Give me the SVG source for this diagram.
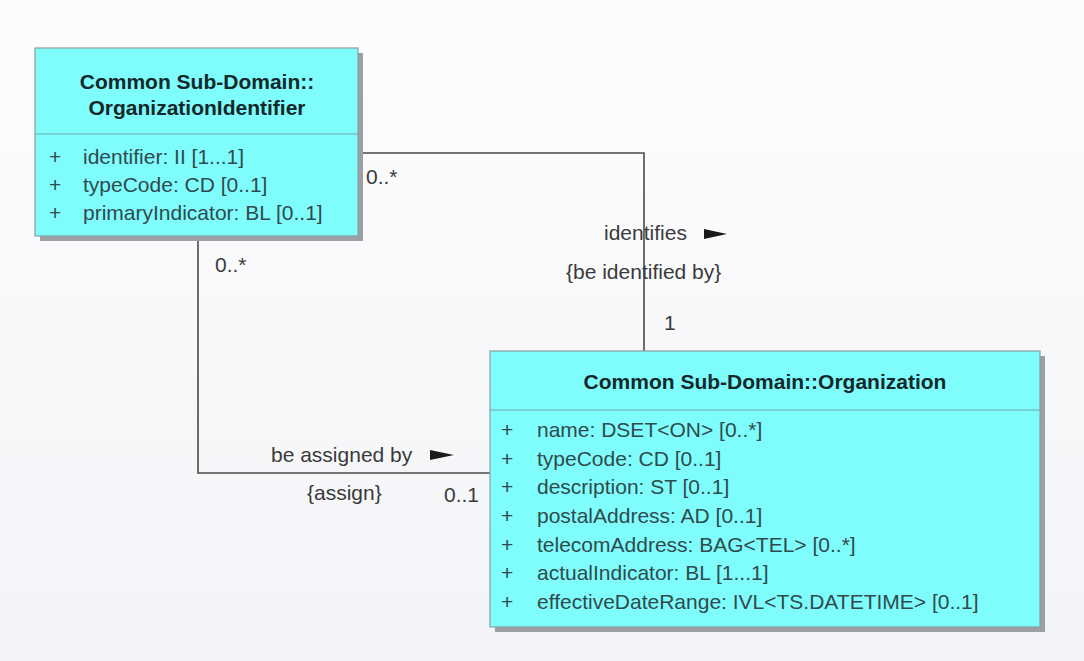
<svg xmlns="http://www.w3.org/2000/svg" width="1084" height="661" viewBox="0 0 1084 661">
  <defs>
    <linearGradient id="bg" x1="0" y1="0" x2="0" y2="1">
      <stop offset="0" stop-color="#fdfdfe"/>
      <stop offset="1" stop-color="#f3f4f7"/>
    </linearGradient>
    <style>
      text { font-family: "Liberation Sans", Arial, sans-serif; }
      .shadow { fill: #9c9fa3; }
      .box { fill: #7ffcfc; stroke: #8a9ea0; stroke-width: 1.2; }
      .sep { stroke: #6aacad; stroke-width: 1.2; }
      .title { font-size: 21px; font-weight: bold; fill: #13282a; text-anchor: middle; }
      .attr { font-size: 21px; fill: #2f4b4d; }
      .lbl { font-size: 21px; fill: #3a3a3a; }
      .conn { fill: none; stroke: #4a4a4a; stroke-width: 1.6; }
      .arr { fill: #1a1a1a; }
    </style>
  </defs>
  <rect x="0" y="0" width="1084" height="661" fill="url(#bg)"/>

  <g id="connectors">
    <polyline class="conn" points="358,153 644,153 644,351"/>
    <polyline class="conn" points="198,236 198,473 490,473"/>
    <text class="lbl" x="366" y="184">0..*</text>
    <text class="lbl" x="604" y="240">identifies</text>
    <polygon class="arr" points="704,229 727,234 704,239"/>
    <text class="lbl" x="566" y="279">{be identified by}</text>
    <text class="lbl" x="664" y="330">1</text>
    <text class="lbl" x="215" y="272">0..*</text>
    <text class="lbl" x="271" y="462">be assigned by</text>
    <polygon class="arr" points="430,450 454,455 430,460"/>
    <text class="lbl" x="307" y="500">{assign}</text>
    <text class="lbl" x="444" y="502">0..1</text>
  </g>

  <g id="node-organization-identifier">
    <rect class="shadow" x="40" y="53" width="323" height="188"/>
    <rect class="box" x="35" y="48" width="323" height="188"/>
    <line class="sep" x1="35" y1="134" x2="358" y2="134"/>
    <text class="title" x="197" y="89">Common Sub-Domain::</text>
    <text class="title" x="197" y="115">OrganizationIdentifier</text>
    <text class="attr" x="49" y="164">+</text>
    <text class="attr" x="83" y="164">identifier: II [1...1]</text>
    <text class="attr" x="49" y="192">+</text>
    <text class="attr" x="83" y="192">typeCode: CD [0..1]</text>
    <text class="attr" x="49" y="220">+</text>
    <text class="attr" x="83" y="220">primaryIndicator: BL [0..1]</text>
  </g>

  <g id="node-organization">
    <rect class="shadow" x="495" y="356" width="550" height="276"/>
    <rect class="box" x="490" y="351" width="550" height="276"/>
    <line class="sep" x1="490" y1="410" x2="1040" y2="410"/>
    <text class="title" x="765" y="389">Common Sub-Domain::Organization</text>
    <text class="attr" x="501" y="437">+</text>
    <text class="attr" x="537" y="437">name: DSET&lt;ON&gt; [0..*]</text>
    <text class="attr" x="501" y="466">+</text>
    <text class="attr" x="537" y="466">typeCode: CD [0..1]</text>
    <text class="attr" x="501" y="494">+</text>
    <text class="attr" x="537" y="494">description: ST [0..1]</text>
    <text class="attr" x="501" y="523">+</text>
    <text class="attr" x="537" y="523">postalAddress: AD [0..1]</text>
    <text class="attr" x="501" y="552">+</text>
    <text class="attr" x="537" y="552">telecomAddress: BAG&lt;TEL&gt; [0..*]</text>
    <text class="attr" x="501" y="580">+</text>
    <text class="attr" x="537" y="580">actualIndicator: BL [1...1]</text>
    <text class="attr" x="501" y="609">+</text>
    <text class="attr" x="537" y="609">effectiveDateRange: IVL&lt;TS.DATETIME&gt; [0..1]</text>
  </g>
</svg>
